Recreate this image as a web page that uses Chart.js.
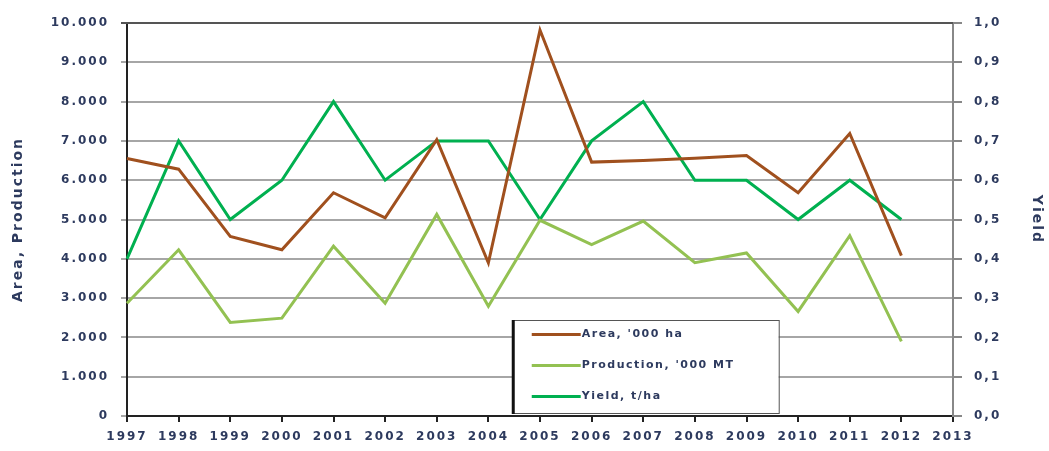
<!DOCTYPE html>
<html>
<head>
<meta charset="utf-8">
<script src="https://cdn.jsdelivr.net/npm/chart.js@4"></script>
<style>
  html, body { margin: 0; padding: 0; background: #fff; }
  #wrap { width: 1049px; height: 451px; }
</style>
</head>
<body>
<div id="wrap"><canvas id="chart"></canvas></div>
<script>
const years = ['1997','1998','1999','2000','2001','2002','2003','2004','2005','2006','2007','2008','2009','2010','2011','2012','2013'];
const area = [6550, 6280, 4570, 4230, 5680, 5040, 7030, 3900, 9820, 6460, 6500, 6560, 6630, 5680, 7190, 4080];
const production = [2870, 4230, 2380, 2490, 4320, 2870, 5130, 2790, 4980, 4360, 4960, 3900, 4150, 2660, 4590, 1900];
const yieldVals = [0.4, 0.7, 0.5, 0.6, 0.8, 0.6, 0.7, 0.7, 0.5, 0.7, 0.8, 0.6, 0.6, 0.5, 0.6, 0.5];

const textColor = '#2d3a5e';
const fontFam = '"DejaVu Sans", sans-serif';

// wide-looking text like the scanned original
const spacing = {
    id: 'spacing',
    beforeLayout(c) { c.ctx.letterSpacing = '2px'; },
    beforeDraw(c) { c.ctx.letterSpacing = '2px'; }
};

// darker top border of the plot
const topLine = {
    id: 'topLine',
    beforeDatasetsDraw(c) {
        const ctx = c.ctx, ca = c.chartArea;
        ctx.save();
        ctx.strokeStyle = '#555';
        ctx.lineWidth = 2;
        ctx.beginPath();
        ctx.moveTo(ca.left - 6, ca.top);
        ctx.lineTo(ca.right, ca.top);
        ctx.stroke();
        ctx.restore();
    }
};

// legend box inside the plot, bottom middle
const boxLegend = {
    id: 'boxLegend',
    afterDraw(c) {
        const ctx = c.ctx, ca = c.chartArea;
        const w = ca.right - ca.left;
        const x0 = ca.left + w * 0.467, x1 = ca.left + w * 0.789;
        const y0 = ca.top + 297, y1 = ca.bottom - 3;
        ctx.save();
        ctx.fillStyle = '#fff';
        ctx.fillRect(x0, y0, x1 - x0, y1 - y0);
        ctx.strokeStyle = '#555';
        ctx.lineWidth = 1;
        ctx.strokeRect(x0 + 0.5, y0 + 0.5, x1 - x0, y1 - y0);
        ctx.fillStyle = '#111';
        ctx.fillRect(x0 - 1, y0, 3, y1 - y0 + 1);
        ctx.font = 'bold 11px ' + fontFam;
        ctx.letterSpacing = '1.5px';
        ctx.textBaseline = 'middle';
        const rowH = (y1 - y0) / 3;
        c.data.datasets.forEach((ds, i) => {
            const y = y0 + rowH * (i + 0.5) - 1;
            ctx.strokeStyle = ds.borderColor;
            ctx.lineWidth = 3;
            ctx.beginPath();
            ctx.moveTo(x0 + 19, y);
            ctx.lineTo(x0 + 68, y);
            ctx.stroke();
            ctx.fillStyle = textColor;
            ctx.fillText(ds.label, x0 + 69, y);
        });
        ctx.restore();
    }
};

new Chart(document.getElementById('chart'), {
    type: 'line',
    data: {
        labels: years,
        datasets: [
            { label: "Area, '000 ha", data: area, borderColor: '#a0501e', yAxisID: 'y' },
            { label: "Production, '000 MT", data: production, borderColor: '#93c152', yAxisID: 'y' },
            { label: 'Yield, t/ha', data: yieldVals, borderColor: '#00b050', yAxisID: 'y2' }
        ]
    },
    options: {
        responsive: true,
        maintainAspectRatio: false,
        animation: false,
        layout: { padding: { top: 23, left: 0, right: 0, bottom: 0 } },
        elements: {
            line: { borderWidth: 3, tension: 0 },
            point: { radius: 0 }
        },
        plugins: { legend: { display: false }, tooltip: { enabled: false } },
        scales: {
            x: {
                offset: false,
                grid: { drawOnChartArea: false, color: '#222', tickLength: 6, lineWidth: 2 },
                border: { color: '#222', width: 2 },
                ticks: {
                    autoSkip: false, maxRotation: 0, padding: 8,
                    color: textColor, font: { family: fontFam, size: 12, weight: 'bold' }
                },
                afterFit(s) { s.height = 35; }
            },
            y: {
                position: 'left',
                min: 0, max: 10000,
                ticks: {
                    stepSize: 1000, padding: 12,
                    color: textColor, font: { family: fontFam, size: 12, weight: 'bold' },
                    callback: v => v === 0 ? '0' : String(v / 1000) + '.000'
                },
                grid: { color: '#a6a6a6', lineWidth: 2, tickLength: 6, drawOnChartArea: true },
                border: { color: '#222', width: 2 },
                title: {
                    display: true, text: 'Area, Production', color: textColor,
                    font: { family: fontFam, size: 14, weight: 'bold' }, padding: { top: 10, bottom: 4 }
                },
                afterFit(s) { s.width = 127; }
            },
            y2: {
                position: 'right',
                min: 0, max: 1,
                ticks: {
                    stepSize: 0.1, padding: 12,
                    color: textColor, font: { family: fontFam, size: 12, weight: 'bold' },
                    callback: v => v.toFixed(1).replace('.', ',')
                },
                grid: { drawOnChartArea: false, color: '#888', tickLength: 9, lineWidth: 2 },
                border: { color: '#888', width: 2 },
                title: {
                    display: true, text: 'Yield', color: textColor,
                    font: { family: fontFam, size: 14, weight: 'bold' }, padding: { top: 4, bottom: 6 }
                },
                afterFit(s) { s.width = 96; }
            }
        }
    },
    plugins: [spacing, topLine, boxLegend]
});
</script>
</body>
</html>
